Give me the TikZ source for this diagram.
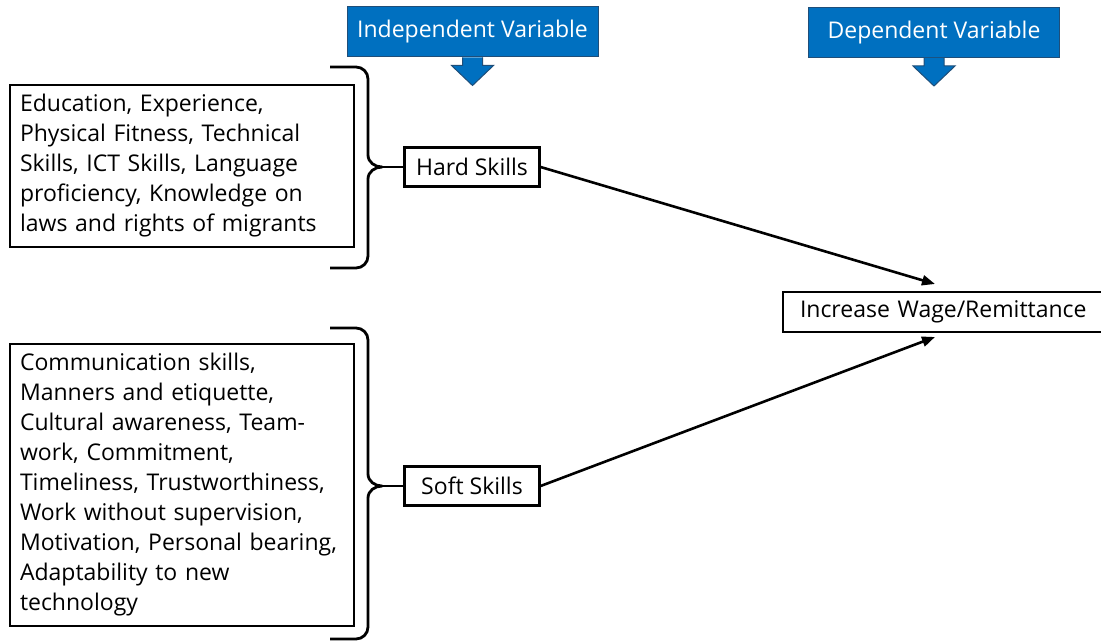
\documentclass[tikz,border=0pt]{standalone}
\usepackage{fontspec}
\setmainfont{Open Sans}[Ligatures=NoCommon]
\usetikzlibrary{arrows.meta}
\definecolor{calloutblue}{HTML}{0070C0}
\definecolor{calloutedge}{HTML}{1F4E79}

\begin{document}
\begin{tikzpicture}[x=1pt,y=-1pt,
  listbox/.style={draw, line width=2.8pt, align=left, text width=324pt, inner xsep=10pt, minimum width=344pt, font=\fontsize{23}{30}\selectfont},
  skillbox/.style={draw, line width=2.2pt, minimum width=135pt, minimum height=39pt, inner sep=0pt, font=\fontsize{23}{26}\selectfont},
  varbox/.style={draw=calloutedge, fill=calloutblue, line width=1pt, text=white, minimum width=251pt, minimum height=50pt, inner sep=0pt, font=\fontsize{23}{26}\selectfont},
  brace/.style={line width=2.8pt, line join=round},
  link/.style={line width=2.6pt, -{Triangle[length=13pt,width=10pt]}}]

\useasboundingbox (0,0) rectangle (1101,642);

%% variable headers
\node[varbox] (iv) at (472.5,32) {Independent Variable};
\node[varbox] (dv) at (934,32.5) {Dependent Variable};
\fill[calloutblue, draw=calloutedge, line width=1pt] ([xshift=-10pt]iv.south) -- ++(0,8) -- ++(-11,0) -- ++(21,20) -- ++(21,-20) -- ++(-11,0) -- ++(0,-8);
\fill[calloutblue, draw=calloutedge, line width=1pt] ([xshift=-10pt]dv.south) -- ++(0,8) -- ++(-11,0) -- ++(21,20) -- ++(21,-20) -- ++(-11,0) -- ++(0,-8);

%% lists of skills
\node[listbox, minimum height=162pt] (hardlist) at (182,166) {Education, Experience,\\ Physical Fitness, Technical\\ Skills, ICT Skills, Language\\ proficiency, Knowledge on\\ laws and rights of migrants};
\node[listbox, minimum height=282pt] (softlist) at (182,485) {Communication skills,\\ Manners and etiquette,\\ Cultural awareness, Team-\\ work, Commitment,\\ Timeliness, Trustworthiness,\\ Work without supervision,\\ Motivation, Personal bearing,\\ Adaptability to new\\ technology};

%% skill groups
\node[skillbox] (hard) at (472,167) {Hard Skills};
\node[skillbox] (soft) at (472,486) {Soft Skills};
\node[skillbox, minimum height=40pt, text width=300pt, inner xsep=17pt, align=left] (wage) at (950,312) {Increase Wage/Remittance};

%% braces
\draw[brace] (330,67) -- (356,67) to[out=0,in=90] (368,79) -- (368,155) to[out=-90,in=180] (382,167) to[out=180,in=90] (368,179) -- (368,256) to[out=-90,in=0] (356,268) -- (330,268);
\draw[brace] (330,328) -- (356,328) to[out=0,in=90] (368,340) -- (368,474) to[out=-90,in=180] (382,486) to[out=180,in=90] (368,498) -- (368,627) to[out=-90,in=0] (356,639) -- (330,639);
\coordinate (hcusp) at (382,167);
\coordinate (scusp) at (382,486);
\draw[brace] (hcusp) -- (hard.west);
\draw[brace] (scusp) -- (soft.west);

%% arrows
\coordinate (htip) at (935,284);
\coordinate (stip) at (935,337);
\draw[link] (hard.east) -- (htip);
\draw[link] (soft.east) -- (stip);
\end{tikzpicture}
\end{document}
